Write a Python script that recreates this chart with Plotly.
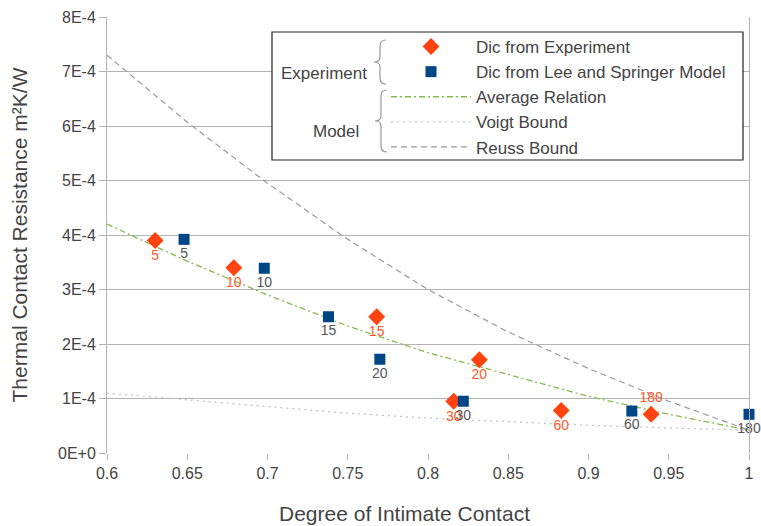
import plotly.graph_objects as go

# ---- data ----
exp_x = [0.630, 0.679, 0.768, 0.832, 0.816, 0.883, 0.939]
exp_y = [3.90e-4, 3.40e-4, 2.50e-4, 1.71e-4, 0.95e-4, 0.78e-4, 0.71e-4]
exp_lbl = ["5", "10", "15", "20", "30", "60", "180"]

ls_x = [0.648, 0.698, 0.738, 0.770, 0.822, 0.927, 1.000]
ls_y = [3.92e-4, 3.39e-4, 2.50e-4, 1.72e-4, 0.95e-4, 0.77e-4, 0.71e-4]
ls_lbl = ["5", "10", "15", "20", "30", "60", "180"]

model_x = [0.60, 0.65, 0.70, 0.75, 0.80, 0.85, 0.90, 0.95, 1.00]
avg_y = [4.20e-4, 3.52e-4, 2.90e-4, 2.33e-4, 1.84e-4, 1.44e-4, 1.04e-4, 0.71e-4, 0.42e-4]
voigt_y = [1.10e-4, 0.98e-4, 0.86e-4, 0.73e-4, 0.64e-4, 0.57e-4, 0.51e-4, 0.46e-4, 0.42e-4]
reuss_y = [7.30e-4, 6.07e-4, 4.95e-4, 3.92e-4, 3.00e-4, 2.22e-4, 1.55e-4, 0.95e-4, 0.42e-4]

y_ticks = [0, 1e-4, 2e-4, 3e-4, 4e-4, 5e-4, 6e-4, 7e-4, 8e-4]
y_ticktext = ["0E+0", "1E-4", "2E-4", "3E-4", "4E-4", "5E-4", "6E-4", "7E-4", "8E-4"]
x_ticks = [0.6, 0.65, 0.7, 0.75, 0.8, 0.85, 0.9, 0.95, 1.0]
x_ticktext = ["0.6", "0.65", "0.7", "0.75", "0.8", "0.85", "0.9", "0.95", "1"]

# ---- layout geometry ----
W, H = 761, 526
ML, MR, MT, MB = 107, 12, 17, 73
PW, PH = W - ML - MR, H - MT - MB


def px(x):
    return (x - ML) / PW


def py(y):
    return (H - MB - y) / PH


FONT = "Liberation Sans, Arial, sans-serif"
TXT = "#444444"
ORANGE = "#ff420e"
BLUE = "#004586"
GREEN = "#86bb4c"

fig = go.Figure()

fig.add_trace(go.Scatter(x=model_x, y=avg_y, mode="lines", name="Average Relation", legendrank=3,
                         line=dict(color=GREEN, width=1.3, dash="6px,3px,2px,3px")))
fig.add_trace(go.Scatter(x=model_x, y=voigt_y, mode="lines", name="Voigt Bound", legendrank=4,
                         line=dict(color="#c4c4c4", width=1.3, dash="2px,4px")))
fig.add_trace(go.Scatter(x=model_x, y=reuss_y, mode="lines", name="Reuss Bound", legendrank=5,
                         line=dict(color="#9a9a9a", width=1.2, dash="6px,4px")))

exp_pos = ["bottom center"] * (len(exp_x) - 1) + ["top center"]
fig.add_trace(go.Scatter(x=exp_x, y=exp_y, mode="markers+text", name="Dic from Experiment", legendrank=1,
                         marker=dict(symbol="diamond", size=13, color=ORANGE),
                         text=exp_lbl, textposition=exp_pos,
                         textfont=dict(family=FONT, size=14, color="#ff5a2a"),
                         cliponaxis=False))
fig.add_trace(go.Scatter(x=ls_x, y=ls_y, mode="markers+text", name="Dic from Lee and Springer Model",
                         legendrank=2,
                         marker=dict(symbol="square", size=11, color=BLUE),
                         text=ls_lbl, textposition="bottom center",
                         textfont=dict(family=FONT, size=14, color="#555555"),
                         cliponaxis=False))

# legend box
shapes = [dict(type="rect", xref="paper", yref="paper",
               x0=px(272), x1=px(743), y0=py(160), y1=py(32),
               line=dict(color="#222222", width=1.2), fillcolor="white", layer="above")]


def brace(xt, ytop, ybot, w=12):
    ym = (ytop + ybot) / 2
    xm = xt + w / 2
    xe = xt + w
    pts = (f"M {px(xe)},{py(ytop)} Q {px(xm)},{py(ytop)} {px(xm)},{py(ytop + 6)} "
           f"L {px(xm)},{py(ym - 5)} Q {px(xm)},{py(ym)} {px(xt)},{py(ym)} "
           f"Q {px(xm)},{py(ym)} {px(xm)},{py(ym + 5)} "
           f"L {px(xm)},{py(ybot - 6)} Q {px(xm)},{py(ybot)} {px(xe)},{py(ybot)}")
    return dict(type="path", xref="paper", yref="paper", path=pts,
                line=dict(color="#999999", width=1.2), layer="above")


shapes.append(brace(374, 40, 84))
shapes.append(brace(375, 90, 152))

annotations = [
    dict(text="Experiment", x=px(324), y=py(62), xref="paper", yref="paper",
         showarrow=False, font=dict(family=FONT, size=17, color=TXT)),
    dict(text="Model", x=px(311), y=py(120), xref="paper", yref="paper",
         showarrow=False, font=dict(family=FONT, size=17, color=TXT)),
    dict(text="Degree of Intimate Contact", x=px(404), y=py(513), xref="paper", yref="paper",
         xanchor="center", yanchor="middle", borderpad=0,
         showarrow=False, font=dict(family=FONT, size=21, color=TXT)),
]

fig.update_layout(
    template="none",
    width=W, height=H,
    margin=dict(l=ML, r=MR, t=MT, b=MB, pad=0),
    paper_bgcolor="white", plot_bgcolor="white",
    font=dict(family=FONT, color=TXT),
    shapes=shapes, annotations=annotations,
    showlegend=True,
    legend=dict(x=px(386), y=py(29), xanchor="left", yanchor="top",
                bgcolor="rgba(0,0,0,0)", borderwidth=0,
                font=dict(family=FONT, size=17, color=TXT),
                traceorder="normal", itemwidth=80),
    xaxis=dict(range=[0.6, 1.0], tickvals=x_ticks, ticktext=x_ticktext, automargin=False,
               showgrid=False, zeroline=False, showline=False,
               ticks="outside", ticklen=6, tickcolor="#b3b3b3",
               tickfont=dict(family=FONT, size=16, color=TXT)),
    yaxis=dict(range=[0, 8e-4], tickvals=y_ticks, ticktext=y_ticktext, automargin=False,
               showgrid=True, gridcolor="#b3b3b3", gridwidth=1, zeroline=False,
               showline=True, linecolor="#b3b3b3", mirror=True,
               ticks="outside", ticklen=7, tickcolor="#b3b3b3",
               tickfont=dict(family=FONT, size=16, color=TXT),
               title=dict(text="Thermal Contact Resistance m²K/W", standoff=24,
                          font=dict(family=FONT, size=21, color=TXT))),
)

fig.write_html("out.html", config={"displayModeBar": False},
               post_script="document.body.style.margin='0';document.body.style.overflow='hidden';")
